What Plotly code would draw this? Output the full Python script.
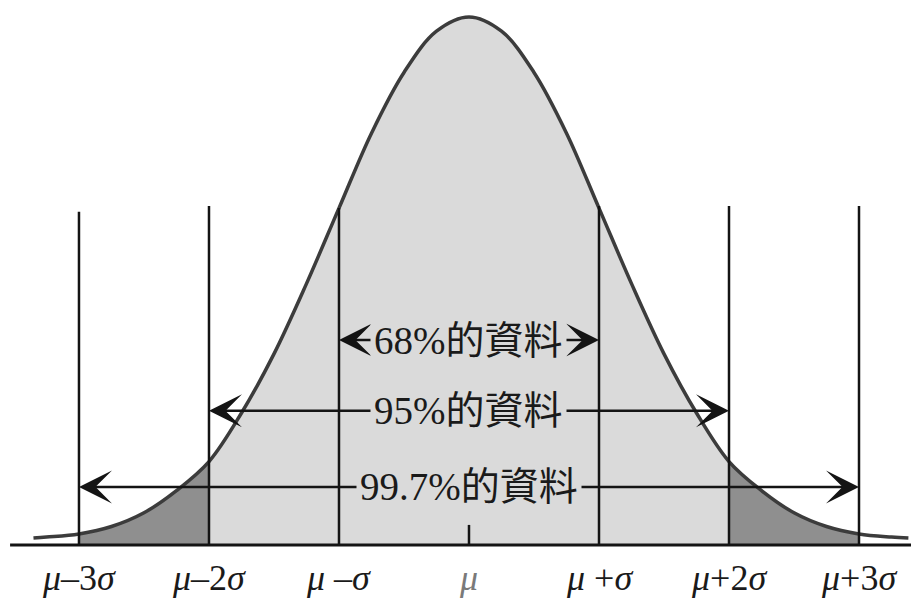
import plotly.graph_objects as go

# ---- data ----
curve_x = [-3.35, -3.25, -3.0, -2.75, -2.5, -2.25, -2.0, -1.75, -1.5, -1.25, -1.0, -0.75, -0.5, -0.25, 0.0,
           0.25, 0.5, 0.75, 1.0, 1.25, 1.5, 1.75, 2.0, 2.25, 2.5, 2.75, 3.0, 3.25, 3.38]
curve_y = [0.013, 0.015, 0.021, 0.035, 0.061, 0.103, 0.158, 0.250, 0.362, 0.495, 0.638, 0.780, 0.895, 0.973, 1.0,
           0.973, 0.895, 0.780, 0.638, 0.495, 0.362, 0.250, 0.158, 0.103, 0.061, 0.035, 0.021, 0.015, 0.013]

sigma_pos = [-3, -2, -1, 0, 1, 2, 3]
sigma_labels = ["<i>μ</i>–3<i>σ</i>", "<i>μ</i>–2<i>σ</i>", "<i>μ</i> –<i>σ</i>", "<i>μ</i>",
                "<i>μ</i> +<i>σ</i>", "<i>μ</i>+2<i>σ</i>", "<i>μ</i>+3<i>σ</i>"]
line_tops = [0.631, 0.642, 0.638, 0.038, 0.642, 0.642, 0.642]

range_labels = ["68%的資料", "95%的資料", "99.7%的資料"]
range_lo = [-1, -2, -3]
range_hi = [1, 2, 3]
range_y = [0.388, 0.254, 0.110]

# ---- style ----
FONT = "Liberation Serif, Noto Sans CJK TC, serif"
LIGHT = "#dadada"
DARK = "#8f8f8f"
INK = "#141414"

fig = go.Figure()

def region(lo, hi, color):
    xs = [x for x in curve_x if lo <= x <= hi]
    ys = [y for x, y in zip(curve_x, curve_y) if lo <= x <= hi]
    fig.add_trace(go.Scatter(x=xs, y=ys, mode="lines", line=dict(width=0, shape="spline"),
                             fill="tozeroy", fillcolor=color, hoverinfo="skip", showlegend=False))

region(-3, -2, DARK)
region(-2, 2, LIGHT)
region(2, 3, DARK)

fig.add_trace(go.Scatter(x=curve_x, y=curve_y, mode="lines",
                         line=dict(color="#3c3c3c", width=3.5, shape="spline"),
                         hoverinfo="skip", showlegend=False))

shapes = []
# baseline
shapes.append(dict(type="line", xref="x", yref="y", x0=-3.53, x1=3.47, y0=0, y1=0,
                   line=dict(color=INK, width=3)))
# vertical sigma lines
for xp, top in zip(sigma_pos, line_tops):
    shapes.append(dict(type="line", xref="x", yref="y", x0=xp, x1=xp, y0=0, y1=top,
                       line=dict(color=INK, width=2.5)))

annotations = []
# arrows
for lo, hi, yv in zip(range_lo, range_hi, range_y):
    for end in (lo, hi):
        annotations.append(dict(x=end, y=yv, ax=0, ay=yv, xref="x", yref="y", axref="x", ayref="y",
                                text="", showarrow=True, arrowhead=3, arrowsize=2.2, arrowwidth=2.5,
                                arrowcolor=INK, standoff=0))
# range labels
for lab, yv in zip(range_labels, range_y):
    annotations.append(dict(x=0, y=yv, xref="x", yref="y", text=lab, showarrow=False,
                            font=dict(family=FONT, size=39, color="#1a1a1a"),
                            bgcolor=LIGHT, borderpad=3, xanchor="center", yanchor="middle"))
# sigma labels
for xp, lab in zip(sigma_pos, sigma_labels):
    annotations.append(dict(x=xp, y=-0.0625, xref="x", yref="y", text=lab, showarrow=False,
                            font=dict(family=FONT, size=36, color="#7a7a7a" if xp == 0 else "#1a1a1a"),
                            xanchor="center", yanchor="middle"))

# page body has an 8px margin: figure occupies page pixels 8..919 x 8..598
fig.update_layout(
    width=911, height=590,
    margin=dict(l=0, r=0, t=0, b=0),
    paper_bgcolor="white", plot_bgcolor="white",
    xaxis=dict(range=[-3.546, 3.4615], visible=False, fixedrange=True),
    yaxis=dict(range=[-0.1004, 1.017], visible=False, fixedrange=True),
    shapes=shapes, annotations=annotations, showlegend=False,
)

fig.write_html("out.html")
